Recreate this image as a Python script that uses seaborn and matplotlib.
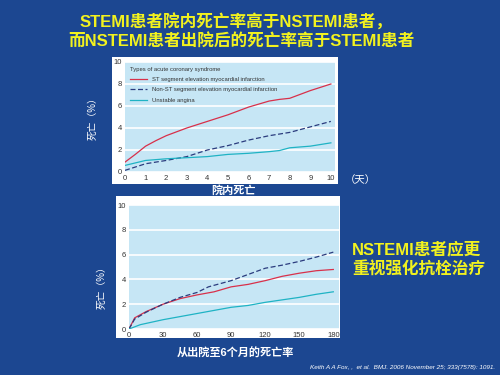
import numpy as np
import pandas as pd
import matplotlib.pyplot as plt
import seaborn as sns
from matplotlib.patches import Rectangle

# in-hospital deaths (days 0-10)
types = ["ST segment elevation myocardial infarction",
         "Non-ST segment elevation myocardial infarction",
         "Unstable angina"]

stemi_days = [0, 0.5, 1, 1.5, 2, 3, 4, 5, 6, 7, 7.5, 8, 9, 10]
stemi_hosp = [0.9, 1.6, 2.35, 2.85, 3.3, 4.0, 4.6, 5.2, 5.9, 6.45, 6.6, 6.7, 7.4, 8.0]
nstemi_days = [0, 1, 2, 3, 4, 5, 6, 7, 8, 9, 10]
nstemi_hosp = [0.15, 0.75, 1.05, 1.4, 2.0, 2.4, 2.9, 3.3, 3.6, 4.1, 4.6]
ua_days = [0, 1, 2, 3, 4, 5, 6, 7, 7.5, 8, 9, 10]
ua_hosp = [0.6, 1.05, 1.2, 1.3, 1.4, 1.6, 1.7, 1.85, 1.95, 2.2, 2.35, 2.65]

# deaths from discharge to 6 months (days 0-180)
stemi_fu_days = [0, 5, 15, 30, 45, 60, 75, 90, 105, 120, 135, 150, 165, 180]
stemi_fu = [0, 0.9, 1.4, 2.0, 2.45, 2.75, 3.0, 3.4, 3.6, 3.9, 4.25, 4.5, 4.7, 4.8]
nstemi_fu_days = [0, 5, 15, 30, 45, 60, 70, 90, 105, 120, 135, 150, 165, 180]
nstemi_fu = [0, 0.8, 1.35, 2.0, 2.55, 2.95, 3.4, 3.9, 4.4, 4.9, 5.15, 5.45, 5.8, 6.2]
ua_fu_days = [0, 10, 30, 45, 60, 75, 90, 105, 120, 135, 150, 165, 180]
ua_fu = [0, 0.35, 0.75, 1.0, 1.25, 1.5, 1.75, 1.9, 2.15, 2.35, 2.55, 2.8, 3.0]

title_lines = ["STEMI患者院内死亡率高于NSTEMI患者，",
               "而NSTEMI患者出院后的死亡率高于STEMI患者"]
side_lines = ["NSTEMI患者应更", "重视强化抗栓治疗"]
cite = "Keith A A Fox, ,  et al.  BMJ. 2006 November 25; 333(7578): 1091."

palette = {types[0]: "#d8304a", types[1]: "#2b3c7e", types[2]: "#1fb3c4"}
dashes = {types[0]: "", types[1]: (4, 2), types[2]: ""}

# latin glyphs from an Arial-like face, CJK falls back to Noto
mixed = ['Liberation Sans', 'Noto Sans CJK SC', 'DejaVu Sans']
plt.rcParams['font.family'] = mixed

hosp = pd.concat([
    pd.DataFrame({'day': stemi_days, 'rate': stemi_hosp, 'type': types[0]}),
    pd.DataFrame({'day': nstemi_days, 'rate': nstemi_hosp, 'type': types[1]}),
    pd.DataFrame({'day': ua_days, 'rate': ua_hosp, 'type': types[2]}),
])
fu = pd.concat([
    pd.DataFrame({'day': stemi_fu_days, 'rate': stemi_fu, 'type': types[0]}),
    pd.DataFrame({'day': nstemi_fu_days, 'rate': nstemi_fu, 'type': types[1]}),
    pd.DataFrame({'day': ua_fu_days, 'rate': ua_fu, 'type': types[2]}),
])

W, H = 500, 375
bg = '#1c4791'
fig = plt.figure(figsize=(5, 3.75), dpi=100, facecolor=bg)


def box(x0, y0, x1, y1):
    fig.add_artist(Rectangle((x0 / W, 1 - y1 / H), (x1 - x0) / W, (y1 - y0) / H,
                             transform=fig.transFigure, facecolor='white',
                             edgecolor='none', zorder=0))


box(112, 57, 338, 184)
box(116, 196, 340, 338)

ax1 = fig.add_axes([125 / W, 1 - 172 / H, 210 / W, 110 / H])
ax2 = fig.add_axes([129 / W, 1 - 329 / H, 210 / W, 124 / H])

sns.lineplot(data=hosp, x='day', y='rate', hue='type', style='type',
             palette=palette, dashes=dashes, sort=False, estimator=None,
             linewidth=0.9, ax=ax1)
sns.lineplot(data=fu, x='day', y='rate', hue='type', style='type',
             palette=palette, dashes=dashes, sort=False, estimator=None,
             linewidth=0.9, ax=ax2, legend=False)

for ax, xmax, xt in [(ax1, 10.2, range(0, 11)), (ax2, 185, range(0, 181, 30))]:
    ax.set_facecolor('#c6e6f5')
    ax.set_xlim(0, xmax)
    ax.set_ylim(0, 10)
    ax.set_xticks(list(xt))
    ax.set_yticks(range(0, 11, 2))
    ax.set_axisbelow(True)
    ax.grid(axis='y', color='white', linewidth=1.2)
    ax.grid(axis='x', visible=False)
    for s in ax.spines.values():
        s.set_visible(False)
    ax.tick_params(length=0, labelsize=5.5, labelcolor='#333333', pad=2)
    ax.set_xlabel('')
    ax.set_ylabel('')

leg = ax1.legend(title="Types of acute coronary syndrome", loc='upper left',
                 frameon=False, fontsize=4.2, title_fontsize=4.2,
                 handlelength=3.0, handletextpad=0.9, labelspacing=0.9,
                 borderaxespad=0.4, alignment='left')
for t in leg.get_texts() + [leg.get_title()]:
    t.set_color('#333333')

yellow = '#f2f21e'
fig.text(236 / W, 1 - 22 / H, title_lines[0], ha='center', va='center',
         color=yellow, fontsize=12, fontweight='bold')
fig.text(241 / W, 1 - 42 / H, title_lines[1], ha='center', va='center',
         color=yellow, fontsize=12, fontweight='bold')
fig.text(352 / W, 1 - 249 / H, side_lines[0], ha='left', va='center',
         color=yellow, fontsize=12, fontweight='bold')
fig.text(352 / W, 1 - 269 / H, side_lines[1], ha='left', va='center',
         color=yellow, fontsize=12, fontweight='bold')

fig.text(93 / W, 1 - 116 / H, "死亡（%）", rotation=90, ha='center', va='center',
         color='white', fontsize=7)
fig.text(102 / W, 1 - 285 / H, "死亡（%）", rotation=90, ha='center', va='center',
         color='white', fontsize=7)
fig.text(345 / W, 1 - 180 / H, "（天）", ha='left', va='center',
         color='white', fontsize=7.5)
fig.text(233 / W, 1 - 190 / H, "院内死亡", ha='center', va='center',
         color='white', fontsize=8, fontweight='bold')
fig.text(235 / W, 1 - 353 / H, "从出院至6个月的死亡率", ha='center', va='center',
         color='white', fontsize=8, fontweight='bold')
fig.text(495 / W, 1 - 368 / H, cite, ha='right', va='center', color='white',
         fontsize=4.6, style='italic')

fig.savefig('out.png', dpi=100, facecolor=bg)
